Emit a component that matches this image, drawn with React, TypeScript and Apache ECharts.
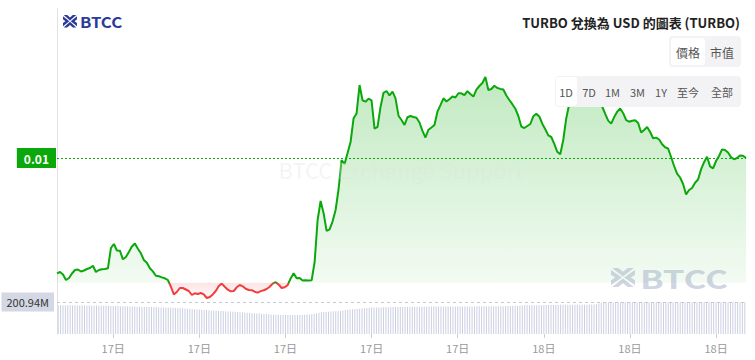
import React, { useEffect, useRef } from 'react';
import * as echarts from 'echarts';

// ---- data ----
const PRICES = [
  0.008847, 0.00886, 0.008835, 0.00878, 0.0088, 0.008845, 0.00888, 0.008885, 0.008865, 0.008875,
  0.00889, 0.0089, 0.008923, 0.00886, 0.00888, 0.008888, 0.00889, 0.008897, 0.0091, 0.00914,
  0.009075, 0.009073, 0.008987, 0.00901, 0.00906, 0.009115, 0.009145, 0.009092, 0.009047, 0.00898,
  0.008952, 0.008897, 0.008866, 0.008823, 0.008818, 0.008806, 0.008797, 0.00878, 0.008715, 0.008636,
  0.00866, 0.0087, 0.0087, 0.008685, 0.00867, 0.00863, 0.008647, 0.00864, 0.00865, 0.008637,
  0.0086, 0.00861, 0.008636, 0.00867, 0.00872, 0.008744, 0.008713, 0.008683, 0.008667, 0.00867,
  0.008707, 0.00873, 0.008717, 0.008692, 0.00868, 0.008678, 0.008663, 0.008654, 0.008669, 0.008678,
  0.00869, 0.008713, 0.008744, 0.008758, 0.008734, 0.0087, 0.008707, 0.008728, 0.008796, 0.008848,
  0.008798, 0.0088, 0.008775, 0.008778, 0.008775, 0.008777, 0.00896, 0.00938, 0.00957, 0.009447,
  0.009272, 0.009286, 0.009367, 0.00948, 0.00969, 0.00998, 0.00994, 0.010051, 0.01016, 0.010397,
  0.010446, 0.01073, 0.010577, 0.010563, 0.010594, 0.010577, 0.010293, 0.010311, 0.010511, 0.010652,
  0.01067, 0.010625, 0.010664, 0.010597, 0.010423, 0.01038, 0.01033, 0.010408, 0.01042, 0.01041,
  0.010402, 0.010355, 0.010272, 0.010205, 0.010283, 0.010305, 0.01033, 0.010463, 0.010528, 0.010597,
  0.010565, 0.010587, 0.010615, 0.010605, 0.010648, 0.010647, 0.010628, 0.010668, 0.01064, 0.010614,
  0.010684, 0.01072, 0.01075, 0.01081, 0.01068, 0.01069, 0.010722, 0.0107, 0.010691, 0.010685,
  0.010625, 0.01058, 0.010538, 0.010493, 0.01042, 0.010314, 0.0103, 0.01032, 0.01034, 0.010417,
  0.010442, 0.010415, 0.010343, 0.010288, 0.010226, 0.01021, 0.010141, 0.010062, 0.010037, 0.01018,
  0.010398, 0.01054, 0.01058, 0.01054, 0.01057, 0.01059, 0.01055, 0.01058, 0.01053, 0.01052,
  0.01056, 0.01055, 0.010515, 0.010442, 0.010374, 0.010344, 0.010409, 0.010463, 0.010495, 0.010448,
  0.010378, 0.010363, 0.010373, 0.010378, 0.01035, 0.010255, 0.01028, 0.01031, 0.01026, 0.010197,
  0.010204, 0.010185, 0.010137, 0.010107, 0.010095, 0.01001, 0.00992, 0.009843, 0.009805, 0.00974,
  0.009636, 0.00968, 0.0097, 0.009753, 0.009785, 0.009886, 0.009958, 0.010012, 0.009916, 0.009896,
  0.00997, 0.01002, 0.010086, 0.01008, 0.010055, 0.010009, 0.009987, 0.01, 0.010025, 0.010023,
  0.01,
];

// 24h rolling volume, millions, one per 5-minute bar
const VOLUMES_M = [
  181, 181, 180, 181, 180, 180, 179, 180, 179, 179, 180, 179, 178, 179, 178, 178, 179, 178, 177, 178,
  177, 177, 176, 177, 176, 176, 175, 175, 174, 174, 173,
  172, 172, 171, 171, 170, 170, 170, 169, 169, 168, 168, 168, 167, 167, 166, 166, 165, 165, 164, 163,
  162, 161, 160,
  159, 158, 157, 156, 155, 154,
  152, 151, 150, 149, 148, 147, 146, 145, 145, 144, 143, 142, 141, 140, 139, 138, 137, 136, 135, 134, 133,
  131, 130, 129, 128, 127, 126, 125, 124, 123, 122, 121, 121, 120, 120, 119, 119, 119, 119, 119, 120, 120,
  120, 121, 122, 123, 125, 127, 130,
  133, 136, 138, 139, 140, 141, 142, 143, 144, 146, 148, 150, 152,
  154, 155, 156, 157, 158, 160, 162, 164, 165,
  166, 166, 167, 167, 167, 168, 168, 168, 168, 169, 169, 169, 169, 170,
  170, 170, 170, 171, 171, 171, 171, 171, 171, 172, 172, 172, 172, 172, 172, 172, 172, 172, 172, 172,
  173, 173, 173, 173, 173, 173, 173, 173, 173, 173, 174, 174, 174, 174, 174, 174, 174, 175, 175, 175,
  175, 175, 176, 176, 176, 177, 177, 178, 178, 179,
  180, 180, 180, 181, 181, 181, 181, 181, 182, 182, 182, 182, 182, 182, 182, 183, 183, 183, 183, 183,
  183, 183, 183, 184, 184, 184, 184, 185, 185, 186, 188, 192,
  197, 198, 198, 198, 198, 198, 199, 199, 199, 199, 199, 199, 199, 199, 199, 199, 199, 199,
  200, 200, 200, 200, 200, 200, 200, 200, 200, 200, 200, 200, 200, 200, 200, 200, 200, 200, 200, 200,
  200, 200, 200, 200, 200, 200, 200, 200, 200, 200, 200, 200, 200, 200, 200, 200, 200, 200, 200, 200,
  200, 200, 200,
];

const BASE_PRICE = 0.008752;
const LAST_PRICE = 0.01;
const LAST_PRICE_LABEL = '0.01';
const VOL_MARK = 200.94;
const VOL_MARK_LABEL = '200.94M';
const START_UTC = Date.UTC(2024, 11, 17, 7, 5);
const STEP_MS = 5 * 60 * 1000;
const PRICE_MIN = 0.00856;
const PRICE_MAX = 0.0115;

const TITLE = 'TURBO 兌換為 USD 的圖表 (TURBO)';
const TOGGLES = ['價格', '市值'];
const RANGES = ['1D', '7D', '1M', '3M', '1Y', '至今', '全部'];
const BRAND = 'BTCC';
const WATERMARK = 'BTCC Exchange Support';

const GREEN = '#0aa80a';
const RED = '#f53b3b';
const FONT = '"Noto Sans CJK TC", "Noto Sans", sans-serif';

// four solid inward-pointing chevrons forming an X
const ICON_PATH =
  'M1 0L6 0L10 4L14 0L19 0L10 9Z M1 20L6 20L10 16L14 20L19 20L10 11Z ' +
  'M0 2L9 10L0 18L0 13L3.5 10L0 7Z M20 2L11 10L20 18L20 13L16.5 10L20 7Z';
let shapeRegistered = false;

export default function App() {
  const ref = useRef<HTMLDivElement>(null);

  useEffect(() => {
    if (!ref.current) return;
    if (!shapeRegistered) {
      echarts.graphic.registerShape('btccIcon', echarts.graphic.extendPath(ICON_PATH, {}));
      shapeRegistered = true;
    }
    const chart = echarts.init(ref.current, null, { renderer: 'svg' });

    // price grid occupies y = 8 .. 302 (pixels)
    const gTop = 8;
    const gBottom = 302;
    const baseY = gTop + ((PRICE_MAX - BASE_PRICE) / (PRICE_MAX - PRICE_MIN)) * (gBottom - gTop);
    const splitOff = (baseY - gTop) / (gBottom - gTop);
    const fillTop = 70;
    const fillBot = 300;
    const fillSplit = (baseY - fillTop) / (fillBot - fillTop);

    const priceCats = PRICES.map((_, i) => i);
    const volCats = VOLUMES_M.map((_, i) => START_UTC + i * STEP_MS);
    const isLabelIdx = (idx: number) => {
      const d = new Date(START_UTC + idx * STEP_MS);
      return d.getUTCMinutes() === 0 && d.getUTCHours() % 3 === 0;
    };

    const rangeX = [566, 589, 612.5, 637.5, 661, 688, 722];
    const brandBlue = '#2b3c98';
    const wmColor = 'rgba(160,172,196,0.5)';

    const graphic: any[] = [
      { type: 'btccIcon', x: 63, y: 15, scaleX: 0.7, scaleY: 0.62, z: 100, style: { fill: brandBlue } },
      {
        type: 'text', x: 80, y: 22, scaleX: 1.12, z: 100,
        style: { text: BRAND, fill: brandBlue, font: 'bold 15px ' + FONT, textVerticalAlign: 'middle' },
      },
      {
        type: 'text', x: 740, y: 22, z: 100,
        style: { text: TITLE, fill: '#222', font: 'bold 13px ' + FONT, textAlign: 'right', textVerticalAlign: 'middle' },
      },
      { type: 'rect', z: 100, shape: { x: 669, y: 36, width: 72, height: 31, r: 4 }, style: { fill: '#f3f3f5' } },
      { type: 'rect', z: 101, shape: { x: 671, y: 38, width: 34, height: 27, r: 3 }, style: { fill: '#fff' } },
      {
        type: 'text', x: 688, y: 52, z: 102,
        style: { text: TOGGLES[0], fill: '#555', font: '12px ' + FONT, textAlign: 'center', textVerticalAlign: 'middle' },
      },
      {
        type: 'text', x: 722, y: 52, z: 102,
        style: { text: TOGGLES[1], fill: '#555', font: '12px ' + FONT, textAlign: 'center', textVerticalAlign: 'middle' },
      },
      { type: 'rect', z: 100, shape: { x: 555, y: 76, width: 186, height: 31, r: 4 }, style: { fill: '#f3f3f5' } },
      { type: 'rect', z: 101, shape: { x: 556, y: 77, width: 21, height: 29, r: 3 }, style: { fill: '#fff' } },
      ...RANGES.map((t, i) => ({
        type: 'text', x: rangeX[i], y: 92, z: 102,
        style: { text: t, fill: '#555', font: '11px ' + FONT, textAlign: 'center', textVerticalAlign: 'middle' },
      })),
      {
        type: 'text', x: 401, y: 169, z: 100, silent: true,
        style: { text: WATERMARK, fill: 'rgba(225,225,225,0.35)', font: '22px ' + FONT, textAlign: 'center', textVerticalAlign: 'middle' },
      },
      { type: 'btccIcon', x: 611, y: 268, scaleX: 1.2, scaleY: 0.95, z: 100, style: { fill: wmColor } },
      {
        type: 'text', x: 640, y: 278, scaleX: 1.4, z: 100,
        style: { text: BRAND, fill: wmColor, font: 'bold 25px ' + FONT, textVerticalAlign: 'middle' },
      },
    ];

    const option: any = {
      animation: false,
      backgroundColor: '#fff',
      grid: [
        { left: 57, right: 9, top: gTop, bottom: 360 - gBottom },
        { left: 57, right: 9, top: 302, bottom: 26 },
      ],
      xAxis: [
        { type: 'category', gridIndex: 0, data: priceCats, boundaryGap: false, show: false },
        {
          type: 'category', gridIndex: 1, data: volCats, boundaryGap: true,
          axisLine: { show: false },
          axisTick: { show: true, alignWithLabel: true, interval: (i: number) => isLabelIdx(i), length: 4, lineStyle: { color: '#cfcfcf' } },
          axisLabel: {
            interval: (i: number) => isLabelIdx(i),
            formatter: (v: any) => new Date(Number(v)).getUTCDate() + '日',
            color: '#999', fontSize: 11, margin: 8, fontFamily: FONT,
          },
        },
      ],
      yAxis: [
        {
          type: 'value', gridIndex: 0, min: PRICE_MIN, max: PRICE_MAX,
          axisLine: { show: true, lineStyle: { color: '#e3e3e3' } },
          axisTick: { show: false }, axisLabel: { show: false }, splitLine: { show: false },
        },
        {
          type: 'value', gridIndex: 1, min: 0, max: VOL_MARK,
          axisLine: { show: true, lineStyle: { color: '#e3e3e3' } },
          axisTick: { show: false }, axisLabel: { show: false }, splitLine: { show: false },
        },
      ],
      series: [
        {
          type: 'line', xAxisIndex: 0, yAxisIndex: 0, data: PRICES,
          symbol: 'none',
          lineStyle: {
            width: 2,
            color: new echarts.graphic.LinearGradient(0, gTop, 0, gBottom, [
              { offset: 0, color: GREEN },
              { offset: splitOff, color: GREEN },
              { offset: splitOff, color: RED },
              { offset: 1, color: RED },
            ], true),
          },
          areaStyle: {
            origin: BASE_PRICE, opacity: 1,
            color: new echarts.graphic.LinearGradient(0, fillTop, 0, fillBot, [
              { offset: 0, color: 'rgba(10,170,10,0.26)' },
              { offset: fillSplit, color: 'rgba(10,170,10,0.05)' },
              { offset: fillSplit, color: 'rgba(245,59,59,0.14)' },
              { offset: 1, color: 'rgba(245,59,59,0)' },
            ], true),
          },
          markLine: {
            silent: true, symbol: 'none',
            lineStyle: { color: GREEN, type: [2, 2], width: 1 },
            label: {
              position: 'start', formatter: LAST_PRICE_LABEL, distance: 1,
              backgroundColor: GREEN, color: '#fff', fontWeight: 'bold', fontSize: 12,
              padding: [4, 7], fontFamily: FONT,
            },
            data: [{ yAxis: LAST_PRICE }],
          },
        },
        {
          type: 'bar', xAxisIndex: 1, yAxisIndex: 1, data: VOLUMES_M,
          barWidth: 1, itemStyle: { color: '#cbd0e1' }, silent: true,
          markLine: {
            silent: true, symbol: 'none',
            lineStyle: { color: '#c4c8d0', type: [3, 3], width: 1 },
            label: {
              position: 'start', formatter: VOL_MARK_LABEL, distance: 3,
              backgroundColor: '#d3d8e4', color: '#333', fontSize: 11,
              padding: [4, 5], fontFamily: FONT,
            },
            data: [{ yAxis: VOL_MARK }],
          },
        },
      ],
      graphic,
    };

    chart.setOption(option);
    return () => chart.dispose();
  }, []);

  return <div ref={ref} style={{ position: 'fixed', left: 0, top: 0, width: 755, height: 360 }} />;
}
